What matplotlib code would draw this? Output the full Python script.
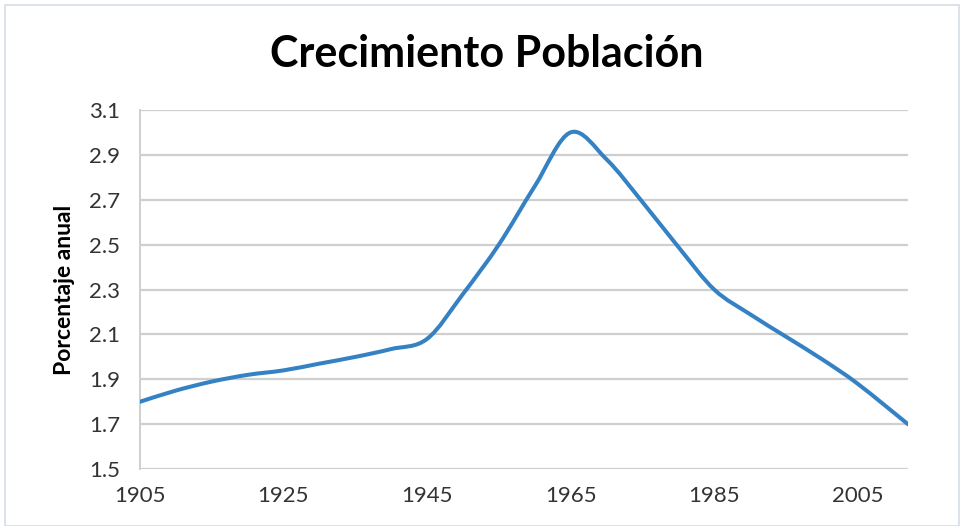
import matplotlib.pyplot as plt
from matplotlib.path import Path
from matplotlib.patches import PathPatch, Rectangle
import numpy as np

years = [1905, 1910, 1915, 1920, 1925, 1930, 1935, 1940, 1945, 1950, 1955,
         1960, 1965, 1970, 1975, 1980, 1985, 1990, 1995, 2000, 2005, 2012]
pct = [1.80, 1.85, 1.89, 1.92, 1.94, 1.97, 2.00, 2.035, 2.08, 2.28, 2.50,
       2.76, 3.00, 2.88, 2.69, 2.49, 2.30, 2.19, 2.09, 1.99, 1.88, 1.70]
y_ticks = [1.5, 1.7, 1.9, 2.1, 2.3, 2.5, 2.7, 2.9, 3.1]
x_ticks = [1905, 1925, 1945, 1965, 1985, 2005]

fig = plt.figure(figsize=(9.64, 5.26), dpi=100)
ax = fig.add_axes([0.145, 0.108, 0.797, 0.683])

# smoothed line like excel: catmull-rom segments as cubic bezier
pts = np.column_stack([years, pct])
verts = [tuple(pts[0])]
codes = [Path.MOVETO]
for i in range(len(pts) - 1):
    p0 = pts[i - 1] if i > 0 else pts[i]
    p1 = pts[i]
    p2 = pts[i + 1]
    p3 = pts[i + 2] if i + 2 < len(pts) else pts[i + 1]
    c1 = p1 + (p2 - p0) / 6
    c2 = p2 - (p3 - p1) / 6
    verts += [tuple(c1), tuple(c2), tuple(p2)]
    codes += [Path.CURVE4] * 3
ax.add_patch(PathPatch(Path(verts, codes), fill=False, edgecolor='#3481c3',
                       lw=2.9, capstyle='round', zorder=3))

ax.set_xlim(1905, 2012)
ax.set_ylim(1.5, 3.1)
ax.set_yticks(y_ticks)
ax.set_yticklabels([f'{v:.1f}' for v in y_ticks])
ax.set_xticks(x_ticks)
ax.tick_params(length=0, labelsize=16, colors='#333333')
ax.tick_params(axis='y', pad=14)
ax.tick_params(axis='x', pad=12)
for lab in ax.get_xticklabels() + ax.get_yticklabels():
    lab.set_family('Lato')

ax.grid(axis='y', color='#cfcfcf', lw=1.6)
ax.set_axisbelow(True)
for s in ['top', 'right', 'bottom']:
    ax.spines[s].set_visible(False)
ax.spines['left'].set_color('#cfcfcf')
ax.spines['left'].set_linewidth(1.4)

ax.set_ylabel('Porcentaje anual', fontsize=16.5, fontweight='bold', family='Lato', labelpad=10)
fig.text(0.505, 0.897, 'Crecimiento Población', ha='center', va='center',
         fontsize=31, fontweight='bold', family='Lato')

fig.patches.append(Rectangle((0.005, 0.0), 0.99, 0.99, transform=fig.transFigure,
                             fill=False, edgecolor='#d5dde8', lw=1.2))

fig.savefig('out.png', dpi=100)
